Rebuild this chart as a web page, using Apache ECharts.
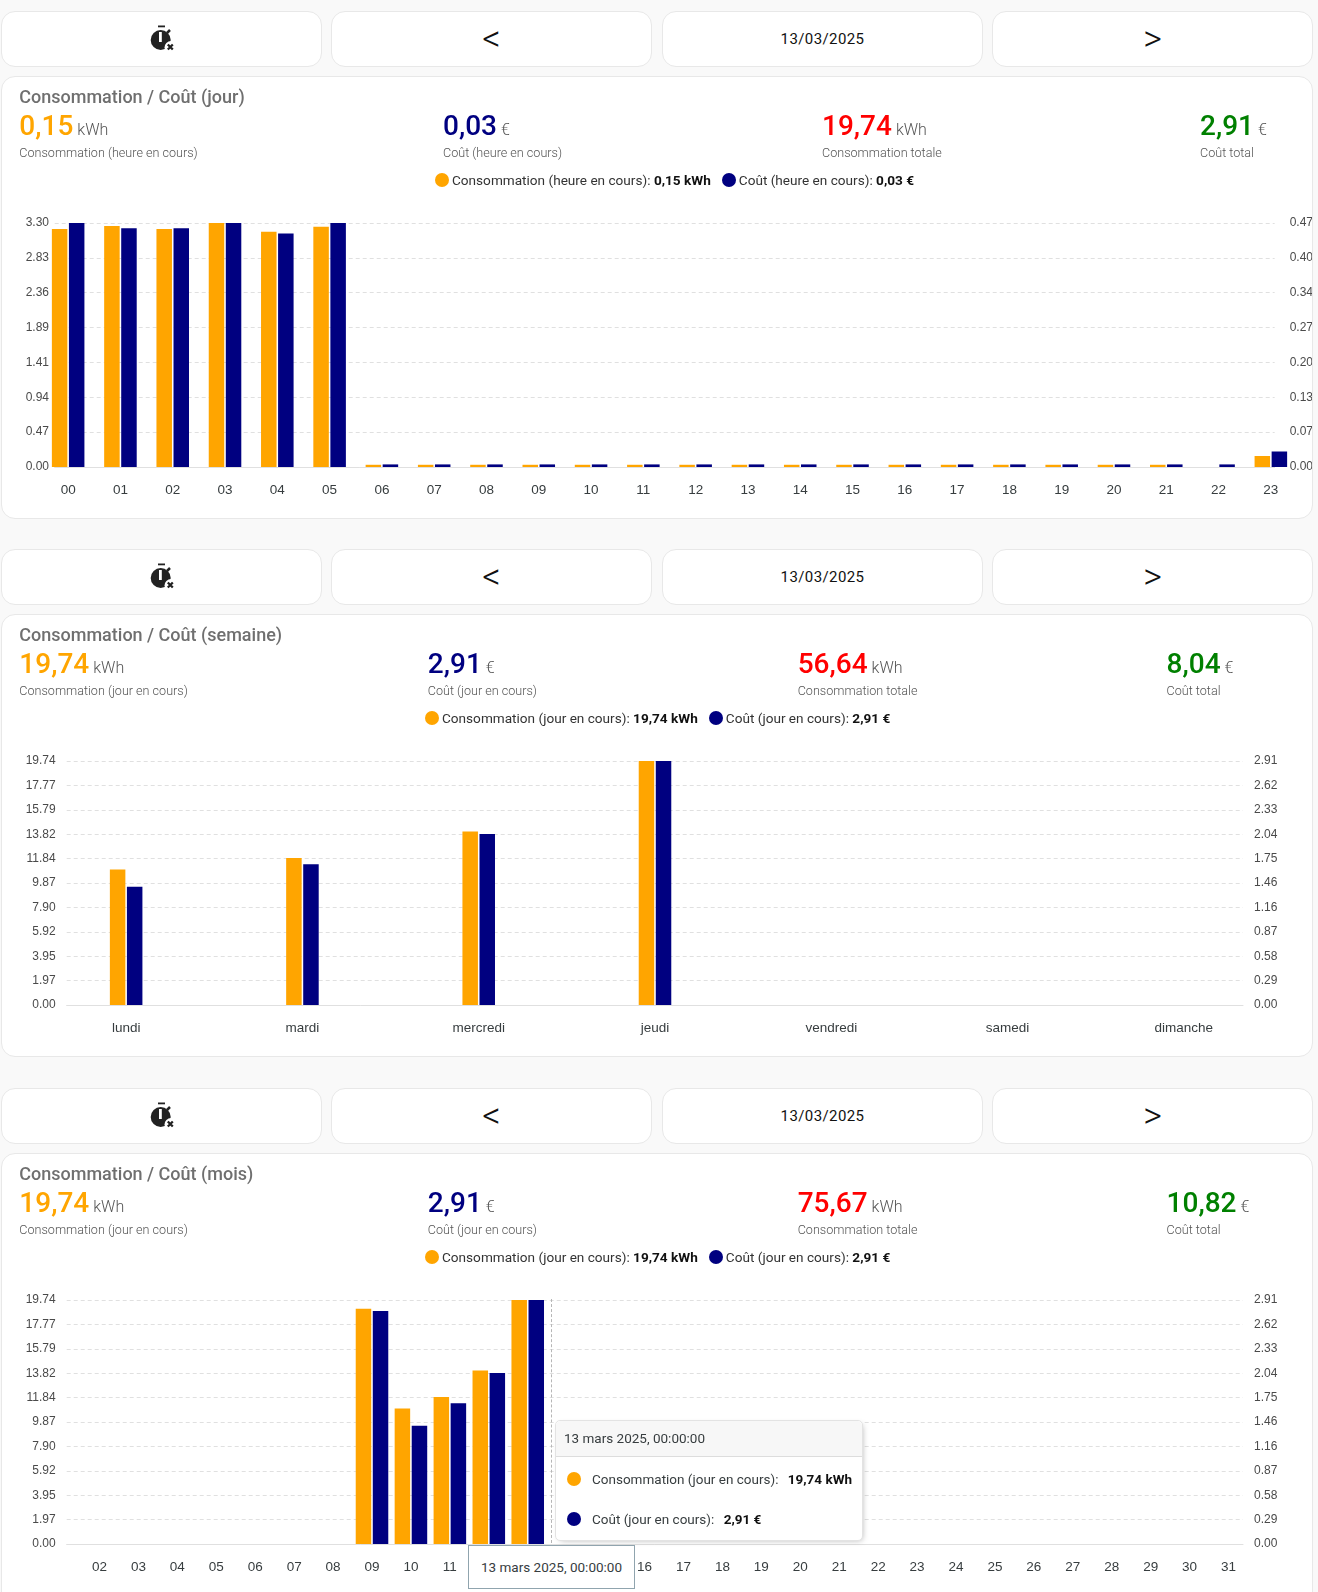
<!doctype html>
<html>
<head>
<meta charset="utf-8">
<title>Consommation / Coût</title>
<script src="https://cdn.jsdelivr.net/npm/echarts@6/dist/echarts.min.js"></script>
<style>
html,body{margin:0;padding:0;width:1318px;height:1592px;overflow:hidden;background:#f9f9f9;font-family:Roboto,sans-serif}
.btn{position:absolute;height:53.500px;width:319px;background:#fff;border:1px solid #e8e8e8;border-radius:14px;text-align:center;line-height:54px;color:#111}
.btn.date{font-size:15px;letter-spacing:.4px}
.btn.arrow{font-size:36px;font-weight:300;line-height:55px}
.btn svg{position:absolute;left:145px;top:13px}
.card{position:absolute;left:1px;width:1310px;background:#fff;border:1px solid #e8e8e8;border-radius:14px;overflow:hidden}
.chart{position:absolute;left:-2px;top:0;width:1316px;height:100%}
.title{position:absolute;left:17.300px;top:8px;font-size:18px;font-weight:500;color:#6f6f6f;line-height:24px;z-index:2}
.stat{position:absolute;top:30px;z-index:2;white-space:nowrap;line-height:38px}
.stat b{font-size:28px;font-weight:500}
.stat span{font-size:16px;font-weight:300;color:#555;margin-left:4px}
.sub{position:absolute;top:66px;z-index:2;font-size:12.600px;font-weight:300;color:#555;line-height:20px;white-space:nowrap}
.legend{position:absolute;top:93px;z-index:2;font-size:13.600px;line-height:20px;color:#333;white-space:nowrap}
.legend i,.tip i{display:inline-block;width:14px;height:14px;border-radius:50%;vertical-align:-2px;margin-right:3px}
.legend i.second{margin-left:11px}
.legend b,.tip b{font-weight:700;color:#111}
.cross{position:absolute;left:551px;top:1299px;height:244px;border-left:1px dashed #b6b6b6;z-index:3}
.tip{position:absolute;left:555px;top:1420px;width:306px;height:119px;background:#fff;border:1px solid #e3e3e3;border-radius:5px;box-shadow:2px 2px 6px -3px rgba(0,0,0,.35);z-index:5;font-size:13.500px;color:#373d3f}
.tip .head{height:35px;line-height:34px;background:#f7f7f7;border-bottom:1px solid #ddd;padding-left:8px;border-radius:5px 5px 0 0}
.tip .row{position:absolute;left:11px;white-space:nowrap;line-height:20px}
.tip i{margin-right:11px}
.tip b{margin-left:6px}
.axbox{position:absolute;left:468px;top:1545px;width:165px;height:42px;line-height:42px;background:#fff;border:1px solid #90a4ae;text-align:center;font-size:13.500px;color:#373d3f;z-index:6}
</style>
</head>
<body>
<div id="page"></div>
<div class="cross"></div>
<div class="tip">
  <div class="head">13 mars 2025, 00:00:00</div>
  <div class="row" style="top:48px"><i style="background:#ffa500"></i>Consommation (jour en cours): <b>19,74 kWh</b></div>
  <div class="row" style="top:88px"><i style="background:#000080"></i>Coût (jour en cours): <b>2,91 €</b></div>
</div>
<div class="axbox">13 mars 2025, 00:00:00</div>
<script>
var ORANGE='#ffa500',NAVY='#000080';

// heures
var hours=['00','01','02','03','04','05','06','07','08','09','10','11','12','13','14','15','16','17','18','19','20','21','22','23'];
var hourKwh=[3.22,3.26,3.22,3.30,3.18,3.25,0.03,0.03,0.03,0.03,0.03,0.03,0.03,0.03,0.03,0.03,0.03,0.03,0.03,0.03,0.03,0.03,null,0.15];
var hourCost=[0.47,0.46,0.46,0.47,0.45,0.47,0.005,0.005,0.005,0.005,0.005,0.005,0.005,0.005,0.005,0.005,0.005,0.005,0.005,0.005,0.005,0.005,0.005,0.03];

// semaine
var weekDays=['lundi','mardi','mercredi','jeudi','vendredi','samedi','dimanche'];
var weekKwh=[10.96,11.90,14.04,19.74,null,null,null];
var weekCost=[1.41,1.68,2.04,2.91,null,null,null];

// mois
var monthDays=['02','03','04','05','06','07','08','09','10','11','12','13','14','15','16','17','18','19','20','21','22','23','24','25','26','27','28','29','30','31'];
var monthKwh=[null,null,null,null,null,null,null,19.03,10.96,11.90,14.04,19.74,null,null,null,null,null,null,null,null,null,null,null,null,null,null,null,null,null,null];
var monthCost=[null,null,null,null,null,null,null,2.78,1.41,1.68,2.04,2.91,null,null,null,null,null,null,null,null,null,null,null,null,null,null,null,null,null,null];

var cards=[
 {top:75.5,rowTop:11,height:441,title:'Consommation / Coût (jour)',now:'0,15',nowCost:'0,03',total:'19,74',totalCost:'2,91',label:'heure',
  cols:[17.3,441,820,1198],legendX:433,cats:hours,a:hourKwh,b:hourCost,maxA:3.30,maxB:0.47,steps:7,
  band:[42,1297],line:[54.7,1279],gapL:5.7,gapR:15},
 {top:613.8,rowTop:549,height:441.5,title:'Consommation / Coût (semaine)',now:'19,74',nowCost:'2,91',total:'56,64',totalCost:'8,04',label:'jour',
  cols:[17.3,425.8,795.7,1164.6],legendX:423,cats:weekDays,a:weekKwh,b:weekCost,maxA:19.74,maxB:2.91,steps:10,
  band:[38,1272],line:[66.7,1243],gapL:11,gapR:11},
 {top:1152.5,rowTop:1088,height:460,title:'Consommation / Coût (mois)',now:'19,74',nowCost:'2,91',total:'75,67',totalCost:'10,82',label:'jour',
  cols:[17.3,425.8,795.7,1164.6],legendX:423,cats:monthDays,a:monthKwh,b:monthCost,maxA:19.74,maxB:2.91,steps:10,
  band:[80,1248],line:[66.7,1243],gapL:11,gapR:11}
];

var icon='<svg width="30" height="30" viewBox="0 0 30 30"><rect x="11" y="0.500" width="7" height="1.800" fill="#222"/><circle cx="13.700" cy="15" r="10" fill="#222"/><path d="M20 8l3-3" stroke="#222" stroke-width="2.500"/><rect x="12" y="7" width="2.800" height="10" fill="#fff"/><circle cx="24" cy="22.500" r="6.500" fill="#fff"/><path d="M20.800 19.500l5 5m0-5l-5 5" stroke="#222" stroke-width="2.300"/></svg>';

function barSeries(name,data,color,xi,yi){
  return {name:name,type:'bar',xAxisIndex:xi,yAxisIndex:yi,data:data,barWidth:15.5,barGap:'10%',clip:false,
    itemStyle:{color:color,borderColor:color,borderWidth:2},silent:true};
}

// deux grilles : les barres débordent de la zone des lignes pointillées
function chartOption(c){
  var fmt=function(v){return v.toFixed(2)};
  function yAxis(grid,pos,max,visible){
    return {type:'value',gridIndex:grid,position:pos,min:0,max:max,interval:max/c.steps,
      axisLine:{show:false},axisTick:{show:false},
      splitLine:{show:visible&&pos=='left',lineStyle:{color:'#e0e0e0',type:[4,3]}},
      axisLabel:{show:visible,formatter:fmt,color:'#4a4a4a',fontSize:12,fontFamily:'Liberation Sans',margin:pos=='left'?c.gapL:c.gapR}};
  }
  return {
    animation:false,
    grid:[
      {left:c.line[0],width:c.line[1]-c.line[0],top:146,height:244},
      {left:c.band[0],width:c.band[1]-c.band[0],top:146,height:244}
    ],
    xAxis:[
      {type:'category',gridIndex:0,data:[],axisLine:{lineStyle:{color:'#e0e0e0'}},axisTick:{show:false},axisLabel:{show:false}},
      {type:'category',gridIndex:1,data:c.cats,axisLine:{show:false},
       axisTick:{alignWithLabel:true,length:6,lineStyle:{color:'#e0e0e0'}},
       axisLabel:{interval:0,color:'#373d3f',fontSize:13.5,fontFamily:'Liberation Sans',margin:16}}
    ],
    yAxis:[yAxis(0,'left',c.maxA,true),yAxis(0,'right',c.maxB,true),yAxis(1,'left',c.maxA,false),yAxis(1,'right',c.maxB,false)],
    series:[barSeries('Consommation',c.a,ORANGE,1,2),barSeries('Coût',c.b,NAVY,1,3)]
  };
}

var page=document.getElementById('page');
cards.forEach(function(c,i){
  var btnX=[1,331,662,992];
  var inner=[icon,'&lt;','13/03/2025','&gt;'];
  var cls=['','arrow','date','arrow'];
  btnX.forEach(function(x,k){
    var b=document.createElement('div');
    b.className='btn '+cls[k];
    b.style.left=x+'px';b.style.top=c.rowTop+'px';
    b.innerHTML=inner[k];
    page.appendChild(b);
  });
  var card=document.createElement('div');
  card.className='card';
  card.style.top=c.top+'px';card.style.height=c.height+'px';
  var stats=[[c.now,'kWh',ORANGE,'Consommation ('+c.label+' en cours)'],[c.nowCost,'€',NAVY,'Coût ('+c.label+' en cours)'],
             [c.total,'kWh','#ff0000','Consommation totale'],[c.totalCost,'€','#008000','Coût total']];
  var html='<div class="title">'+c.title+'</div>';
  stats.forEach(function(s,k){
    html+='<div class="stat" style="left:'+c.cols[k]+'px"><b style="color:'+s[2]+'">'+s[0]+'</b><span>'+s[1]+'</span></div>';
    html+='<div class="sub" style="left:'+c.cols[k]+'px">'+s[3]+'</div>';
  });
  html+='<div class="legend" style="left:'+c.legendX+'px"><i style="background:'+ORANGE+'"></i>Consommation ('+c.label+' en cours): <b>'+c.now+' kWh</b>'+
        '<i class="second" style="background:'+NAVY+'"></i>Coût ('+c.label+' en cours): <b>'+c.nowCost+' €</b></div>';
  html+='<div class="chart" id="chart'+i+'"></div>';
  card.innerHTML=html;
  page.appendChild(card);
  var chart=echarts.init(document.getElementById('chart'+i));
  chart.setOption(chartOption(c));
});
</script>
</body>
</html>
